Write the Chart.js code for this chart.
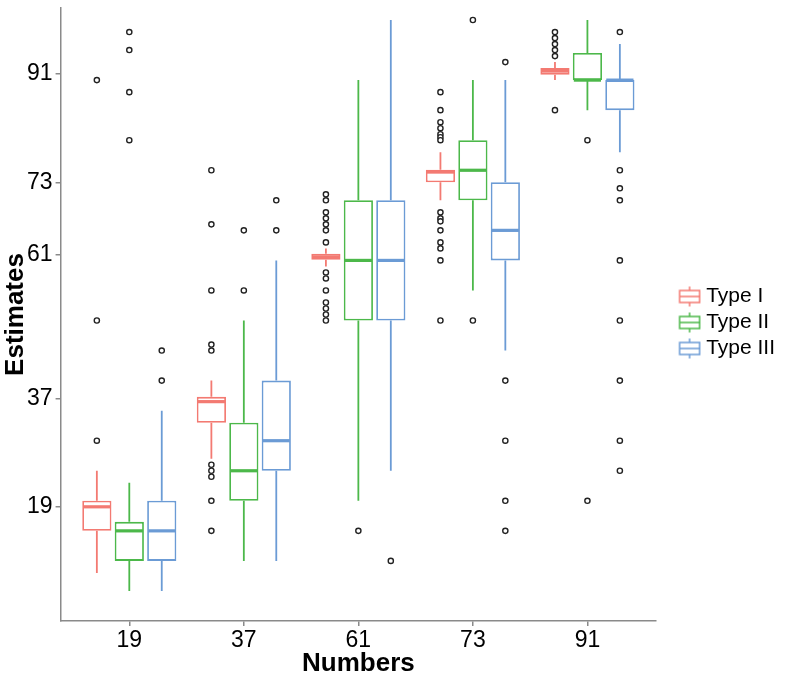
<!DOCTYPE html>
<html>
<head>
<meta charset="utf-8">
<script src="https://cdn.jsdelivr.net/npm/chart.js@4.4.1/dist/chart.umd.min.js"></script>
<style>
  html, body { margin: 0; padding: 0; background: #fff; }
</style>
</head>
<body>
<canvas id="chart" width="793" height="683"></canvas>
<script>
// categorias e ticks
const categories = ['19', '37', '61', '73', '91'];
const yTicks = [19, 37, 61, 73, 91];
const seriesNames = ['Type I', 'Type II', 'Type III'];
const colors = ['#F37A72', '#4CB84A', '#6B9BD5'];

// Type I
const lowI  = [8, 27, 59, 70, 90];
const q1I   = [15, 33, 60.1, 73, 90.9];
const medI  = [19, 36.5, 60.6, 74.7, 91.5];
const q3I   = [20, 37.3, 61.1, 75.1, 92];
const highI = [25, 40, 62, 78, 93];
const outI  = [
  [90, 50, 30],
  [75, 66, 55, 46, 45, 26, 25, 24, 20, 15],
  [71, 70, 68, 67, 66, 65, 63, 58, 57, 55, 53, 52, 51, 50],
  [88, 85, 83, 82, 81, 80.5, 80, 68, 67, 66.5, 65, 63, 62, 60, 50],
  [98, 97, 96, 95, 94, 85]
];

// Type II
const lowII  = [5, 10, 20, 55, 85];
const q1II   = [10, 20, 50, 70, 90];
const medII  = [15, 25, 60, 75, 90];
const q3II   = [16.5, 33, 70, 80, 94.5];
const highII = [23, 50, 90, 90, 100];
const outII  = [[98, 95, 88, 80], [65, 55], [15], [100, 50], [80, 20]];

// Type III
const lowIII  = [5, 10, 25, 45, 78];
const q1III   = [10, 25, 50, 60, 85];
const medIII  = [15, 30, 60, 65, 90];
const q3III   = [20, 40, 70, 73, 90];
const highIII = [35, 60, 100, 90, 96];
const outIII  = [[45, 40], [70, 65], [10], [93, 40, 30, 20, 15], [98, 75, 72, 70, 60, 50, 40, 30, 25]];

const stats = [
  { low: lowI, q1: q1I, med: medI, q3: q3I, high: highI, out: outI },
  { low: lowII, q1: q1II, med: medII, q3: q3II, high: highII, out: outII },
  { low: lowIII, q1: q1III, med: medIII, q3: q3III, high: highIII, out: outIII }
];

const FONT = "'Liberation Sans', Arial, Helvetica, sans-serif";
const groupPct = 0.85;
const dodge = groupPct / 3;

// icone da legenda (pequeno boxplot)
function legendIcon(color) {
  const c = document.createElement('canvas');
  c.width = 50; c.height = 24;
  const g = c.getContext('2d');
  const cx = 36.25;
  g.strokeStyle = color;
  g.lineWidth = 1.5;
  g.strokeRect(cx - 10, 6, 20, 12);
  g.beginPath();
  g.moveTo(cx - 10, 12); g.lineTo(cx + 10, 12);
  g.moveTo(cx, 2); g.lineTo(cx, 6);
  g.moveTo(cx, 18); g.lineTo(cx, 22);
  g.stroke();
  return c;
}
const icons = colors.map(legendIcon);

const boxSets = stats.map((s, k) => ({
  type: 'bar',
  label: seriesNames[k],
  data: categories.map((c, i) => ({ x: i + 1, y: [s.q1[i], s.q3[i]] })),
  backgroundColor: '#ffffff',
  borderColor: colors[k],
  borderWidth: 1.8,
  borderSkipped: false,
  categoryPercentage: groupPct,
  barPercentage: 0.9,
  order: 2
}));

const outlierSets = stats.map((s, k) => ({
  type: 'scatter',
  label: seriesNames[k] + ' outliers',
  data: s.out.flatMap((vals, i) => vals.map(v => ({ x: i + 1 + (k - 1) * dodge, y: v }))),
  pointRadius: 2.6,
  pointBorderWidth: 1.4,
  pointBorderColor: '#222',
  pointBackgroundColor: '#fff',
  showLine: false,
  order: 1
}));

// Desenha bigodes e medianas
const boxWhiskers = {
  id: 'boxWhiskers',
  afterDatasetsDraw(chart) {
    const ctx = chart.ctx;
    const y = chart.scales.y;
    stats.forEach((s, k) => {
      const meta = chart.getDatasetMeta(k);
      meta.data.forEach((bar, i) => {
        const half = bar.width / 2;
        ctx.save();
        ctx.strokeStyle = colors[k];
        ctx.lineWidth = 1.8;
        ctx.beginPath();
        ctx.moveTo(bar.x, y.getPixelForValue(s.q3[i]));
        ctx.lineTo(bar.x, y.getPixelForValue(s.high[i]));
        ctx.moveTo(bar.x, y.getPixelForValue(s.q1[i]));
        ctx.lineTo(bar.x, y.getPixelForValue(s.low[i]));
        ctx.stroke();
        const ym = y.getPixelForValue(s.med[i]);
        ctx.lineWidth = 3.2;
        ctx.beginPath();
        ctx.moveTo(bar.x - half + 1, ym);
        ctx.lineTo(bar.x + half - 1, ym);
        ctx.stroke();
        ctx.restore();
      });
    });
  }
};

const axisGrid = { display: true, drawOnChartArea: false, drawTicks: true, tickLength: 5, color: '#8a8a8a', lineWidth: 1.5, offset: false };
const axisBorder = { display: true, color: '#8a8a8a', width: 1.5 };

new Chart(document.getElementById('chart'), {
  type: 'bar',
  data: { datasets: [...boxSets, ...outlierSets] },
  options: {
    responsive: false,
    animation: false,
    layout: { padding: { top: 8, right: 8, bottom: 2, left: 0 } },
    scales: {
      x: {
        type: 'linear', min: 0.4, max: 5.6, offset: false,
        afterBuildTicks: s => { s.ticks = categories.map((c, i) => ({ value: i + 1 })); },
        ticks: { callback: v => categories[v - 1], font: { family: FONT, size: 23, lineHeight: 1 }, color: '#000', padding: 3, autoSkip: false, maxRotation: 0 },
        grid: axisGrid,
        border: axisBorder,
        title: { display: true, text: 'Numbers', font: { family: FONT, size: 26, weight: 'bold', lineHeight: 1 }, color: '#000', padding: { top: -4, bottom: 4 } }
      },
      y: {
        type: 'linear', min: 0, max: 102,
        afterBuildTicks: s => { s.ticks = yTicks.map(v => ({ value: v })); },
        afterFit: s => { s.paddingTop = 0; s.paddingBottom = 0; },
        ticks: { font: { family: FONT, size: 23 }, color: '#000', padding: 3 },
        grid: axisGrid,
        border: axisBorder,
        title: { display: true, text: 'Estimates', font: { family: FONT, size: 26, weight: 'bold', lineHeight: 1 }, color: '#000', padding: { top: 3, bottom: -5 } }
      }
    },
    plugins: {
      tooltip: { enabled: false },
      legend: {
        position: 'right',
        fullSize: false,
        align: 'center',
        title: { display: true, text: '', font: { size: 10, lineHeight: 1.2 }, padding: { top: 0, bottom: 4 } },
        labels: {
          usePointStyle: true,
          pointStyleWidth: 34.5,
          boxHeight: 21,
          padding: 5,
          font: { family: FONT, size: 21 },
          color: '#000',
          generateLabels: () => seriesNames.map((n, k) => ({
            text: n, pointStyle: icons[k], fillStyle: '#fff', strokeStyle: colors[k],
            lineWidth: 0, hidden: false, datasetIndex: k, fontColor: '#000'
          }))
        }
      }
    }
  },
  plugins: [boxWhiskers]
});
</script>
</body>
</html>
